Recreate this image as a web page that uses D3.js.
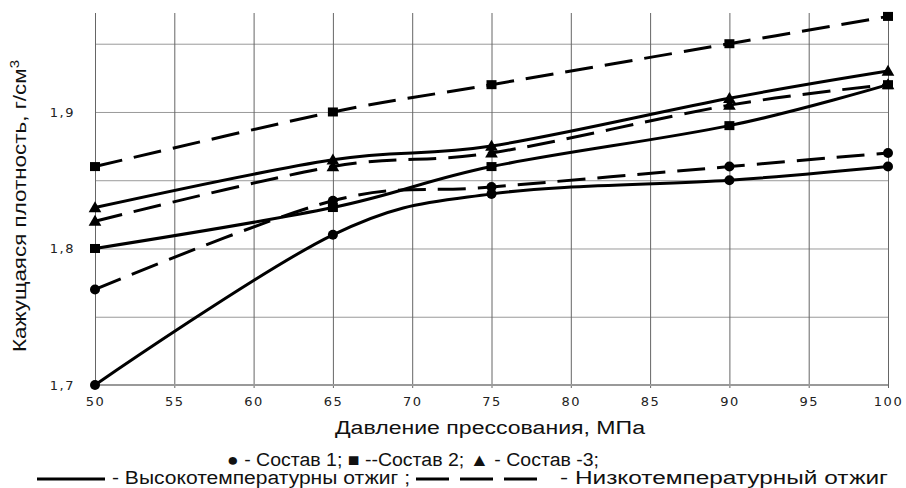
<!DOCTYPE html>
<html lang="ru">
<head>
<meta charset="UTF-8">
<title>Кажущаяся плотность</title>
<script src="https://d3js.org/d3.v7.min.js"></script>
<style>
    body { margin: 0; background: #fff; }
    .tick text { font-family: "DejaVu Sans", Verdana, sans-serif; font-size: 13px; letter-spacing: 1.5px; fill: #222; }
    .lbl { font-family: "Liberation Sans", Arial, sans-serif; fill: #111; }
</style>
</head>
<body>
<svg width="906" height="488"></svg>
<script>
// давление прессования, МПа
const pressure = [50, 65, 75, 90, 100];
// кажущаяся плотность, г/см3
const s1High = [1.70, 1.81, 1.84, 1.85, 1.86];
const s1Low  = [1.77, 1.835, 1.845, 1.86, 1.87];
const s2High = [1.80, 1.83, 1.86, 1.89, 1.92];
const s2Low  = [1.86, 1.90, 1.92, 1.95, 1.97];
const s3High = [1.83, 1.865, 1.875, 1.91, 1.93];
const s3Low  = [1.82, 1.86, 1.87, 1.905, 1.92];

const xTicks = [50, 55, 60, 65, 70, 75, 80, 85, 90, 95, 100];
const yGrid = [1.7, 1.75, 1.8, 1.85, 1.9, 1.95];
const yLabels = [1.7, 1.8, 1.9];

const series = [
    { values: s1High, marker: "circle", dashed: false },
    { values: s1Low, marker: "circle", dashed: true },
    { values: s2High, marker: "square", dashed: false },
    { values: s2Low, marker: "square", dashed: true },
    { values: s3High, marker: "triangle", dashed: false },
    { values: s3Low, marker: "triangle", dashed: true }
];

const plotLeft = 95, plotRight = 888, plotTop = 13, plotBottom = 385;
const svg = d3.select("svg");

const x = d3.scaleLinear().domain([50, 100]).range([plotLeft, plotRight]);
const y = d3.scaleLinear().domain([1.7, 1.9725]).range([plotBottom, plotTop]);

const ru = d3.formatLocale({ decimal: ",", thousands: " ", grouping: [3], currency: ["", ""] });
const fmt = ru.format(".1f");

// горизонтальная сетка + подписи оси Y
const gy = svg.append("g")
    .attr("transform", `translate(${plotLeft},0)`)
    .call(d3.axisLeft(y).tickValues(yGrid).tickSize(-(plotRight - plotLeft)).tickPadding(20)
        .tickFormat(d => yLabels.some(v => Math.abs(v - d) < 1e-9) ? fmt(d) : ""));
gy.select(".domain").remove();
gy.selectAll(".tick line").attr("stroke", "#9a9a9a").attr("stroke-width", 1);

// вертикальная сетка + подписи оси X
const gx = svg.append("g")
    .attr("transform", `translate(0,${plotBottom + 3})`)
    .call(d3.axisBottom(x).tickValues(xTicks).tickSize(-(plotBottom + 3 - plotTop)).tickPadding(9));
gx.select(".domain").remove();
gx.selectAll(".tick line").attr("stroke", "#666").attr("stroke-width", 1);

svg.append("line")
    .attr("x1", plotLeft).attr("x2", plotRight).attr("y1", y(1.7)).attr("y2", y(1.7))
    .attr("stroke", "#999").attr("stroke-width", 2);

const line = d3.line()
    .x((d, i) => x(pressure[i]))
    .y(d => y(d))
    .curve(d3.curveCardinal.tension(0));

const tri = d3.symbol().type(d3.symbolTriangle).size(70);

series.forEach(s => {
    svg.append("path")
        .attr("d", line(s.values))
        .attr("fill", "none")
        .attr("stroke", "#000")
        .attr("stroke-width", 3)
        .attr("stroke-dasharray", s.dashed ? "28,12" : null);

    const pts = svg.append("g").selectAll("g").data(s.values).join("g")
        .attr("transform", (d, i) => `translate(${x(pressure[i])},${y(d)})`);
    if (s.marker === "circle") {
        pts.append("circle").attr("r", 5).attr("fill", "#000");
    } else if (s.marker === "square") {
        pts.append("rect").attr("x", -5).attr("y", -4.5).attr("width", 10).attr("height", 9).attr("fill", "#000");
    } else {
        pts.append("path").attr("d", tri).attr("transform", "translate(0,1)").attr("fill", "#000");
    }
});

// подписи осей
svg.append("text").attr("class", "lbl")
    .attr("transform", "translate(26,206) rotate(-90)")
    .attr("text-anchor", "middle")
    .attr("font-size", 18)
    .attr("textLength", 292).attr("lengthAdjust", "spacingAndGlyphs")
    .html("Кажущаяся плотность, г/см<tspan dy='-7' font-size='12'>3</tspan>");

svg.append("text").attr("class", "lbl")
    .attr("x", 335).attr("y", 434)
    .attr("font-size", 18)
    .attr("textLength", 310).attr("lengthAdjust", "spacingAndGlyphs")
    .text("Давление прессования, МПа");

// легенда
svg.append("text").attr("class", "lbl")
    .attr("x", 227).attr("y", 466)
    .attr("font-size", 18)
    .attr("textLength", 372).attr("lengthAdjust", "spacingAndGlyphs")
    .text("● - Состав 1; ■ --Состав 2;  ▲ - Состав -3;");

svg.append("line")
    .attr("x1", 37).attr("x2", 105).attr("y1", 479).attr("y2", 479)
    .attr("stroke", "#000").attr("stroke-width", 3);
svg.append("text").attr("class", "lbl")
    .attr("x", 112).attr("y", 484)
    .attr("font-size", 18)
    .attr("textLength", 298).attr("lengthAdjust", "spacingAndGlyphs")
    .text("- Высокотемпературны отжиг ;");
svg.append("line")
    .attr("x1", 416).attr("x2", 537).attr("y1", 479).attr("y2", 479)
    .attr("stroke", "#000").attr("stroke-width", 3)
    .attr("stroke-dasharray", "33,11");
svg.append("text").attr("class", "lbl")
    .attr("x", 560).attr("y", 484)
    .attr("font-size", 18)
    .attr("textLength", 328).attr("lengthAdjust", "spacingAndGlyphs")
    .text("-  Низкотемпературный отжиг");
</script>
</body>
</html>
